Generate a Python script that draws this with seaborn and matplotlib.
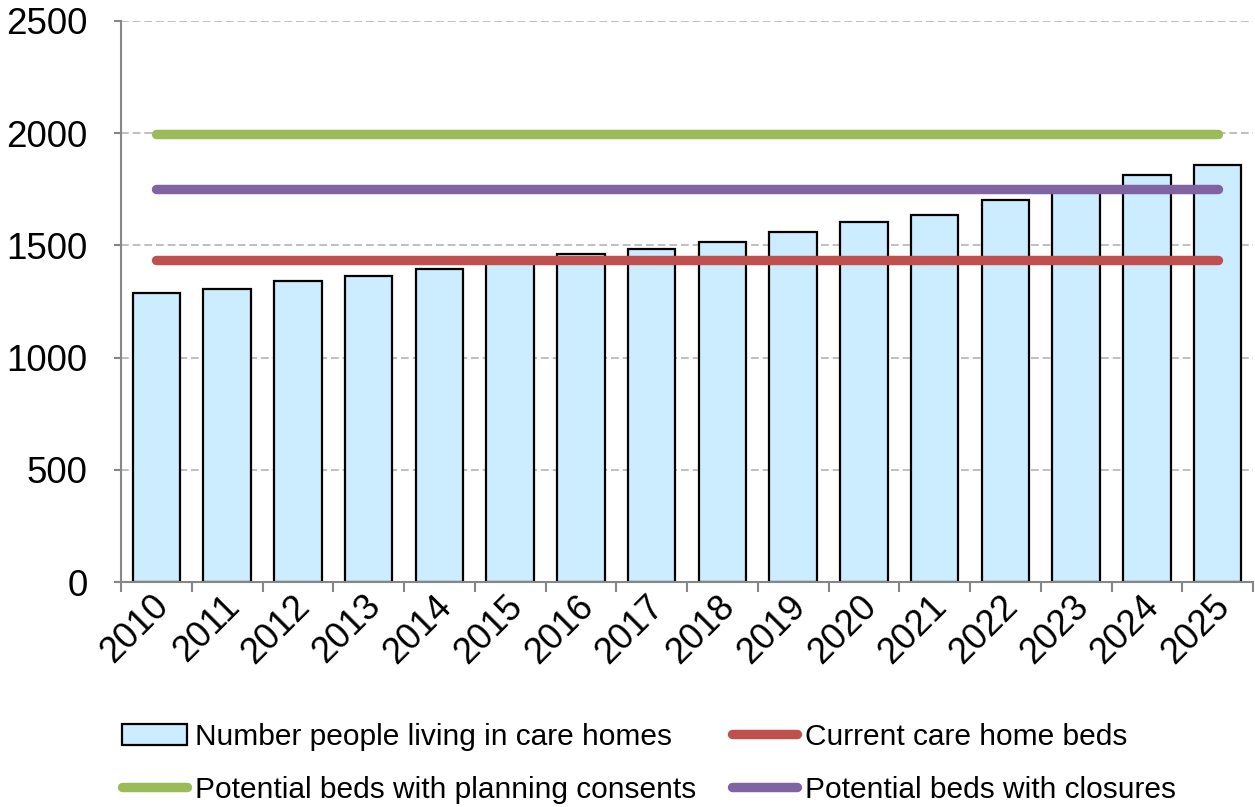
import numpy as np
import pandas as pd
import matplotlib
matplotlib.use("Agg")
import matplotlib.pyplot as plt
import matplotlib.transforms as mtransforms
import seaborn as sns
from matplotlib.ticker import FixedLocator, MultipleLocator

# ------------------------- DATA -------------------------
years = [str(y) for y in range(2010, 2026)]
people_in_care_homes = [1286, 1307, 1340, 1364, 1395, 1428, 1463, 1485,
                        1516, 1561, 1605, 1637, 1703, 1758, 1815, 1860]
current_beds = 1435
beds_planning_consents = 1995
beds_with_closures = 1753

labels = ["Number people living in care homes",
          "Current care home beds",
          "Potential beds with planning consents",
          "Potential beds with closures"]

bar_color = "#CCECFF"
red = "#C0504D"
green = "#9BBB59"
purple = "#8064A2"
axis_grey = "#868686"

# ------------------------- PLOT -------------------------
sns.set_style("white")
plt.rcParams["font.family"] = ["Liberation Sans", "DejaVu Sans"]
plt.rcParams["text.color"] = "black"

df = pd.DataFrame({"Year": years, "People": people_in_care_homes})
pos = np.arange(len(years))

fig = plt.figure(figsize=(12.55, 8.07), dpi=100)
ax = fig.add_axes([121 / 1255, 1 - 582 / 807, (1253 - 121) / 1255, (582 - 21) / 807])

sns.barplot(data=df, x="Year", y="People", color=bar_color, saturation=1,
            width=0.67, edgecolor="black", linewidth=1.6, ax=ax, zorder=2)

levels = [(current_beds, red), (beds_planning_consents, green), (beds_with_closures, purple)]
line_handles = []
for lvl, col in levels:
    ln, = ax.plot(pos, [lvl] * len(pos), color=col, lw=6.8,
                  solid_capstyle="round", zorder=3)
    line_handles.append(ln)

ax.set_xlim(-0.5, len(years) - 0.5)
ax.set_ylim(0, 2500)
ax.yaxis.set_major_locator(MultipleLocator(500))
ax.grid(axis="y", color="#BFBFBF", linestyle=(0, (4, 2)), linewidth=1.4, zorder=0)
ax.set_axisbelow(True)

for s in ["top", "right"]:
    ax.spines[s].set_visible(False)
for s in ["left", "bottom"]:
    ax.spines[s].set_color(axis_grey)
    ax.spines[s].set_linewidth(1.5)

ax.set_xlabel("")
ax.set_ylabel("")
ax.tick_params(axis="y", direction="out", length=5, width=1.5, color=axis_grey,
               labelsize=26.5, pad=19, left=True, labelcolor="black")
ax.tick_params(axis="x", which="major", length=0, labelsize=26, pad=10,
               labelcolor="black")
ax.xaxis.set_minor_locator(FixedLocator(np.arange(-0.5, len(years), 1.0)))
ax.tick_params(axis="x", which="minor", direction="out", length=7, width=1.5,
               color=axis_grey, bottom=True)
shift = mtransforms.ScaledTranslation(7 / 100, -5 / 100, fig.dpi_scale_trans)
for lab in ax.get_xticklabels():
    lab.set_rotation(45)
    lab.set_ha("right")
    lab.set_va("center")
    lab.set_rotation_mode("anchor")
    lab.set_transform(lab.get_transform() + shift)

bar_handle = ax.patches[0]
handles = [bar_handle, line_handles[1], line_handles[0], line_handles[2]]
legend_labels = [labels[0], labels[2], labels[1], labels[3]]
fig.legend(handles, legend_labels, loc="upper left", bbox_to_anchor=(0.0755, 0.138),
           ncol=2, frameon=False, fontsize=21.5, handlelength=2.18,
           handletextpad=0.27, columnspacing=1.2, labelspacing=0.85)

fig.savefig("out.png", dpi=100)
